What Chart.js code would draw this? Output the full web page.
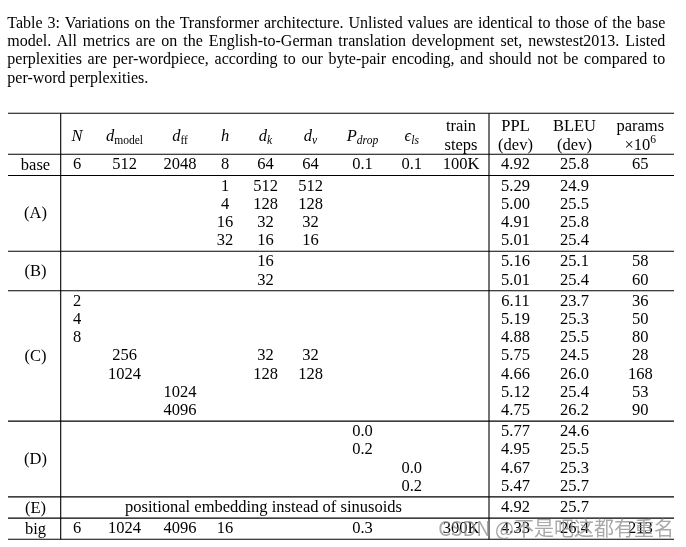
<!DOCTYPE html>
<html>
<head>
<meta charset="utf-8">
<script src="https://cdn.jsdelivr.net/npm/chart.js@4"></script>
<style>
body { margin: 0; background: #fff; }
#cadre { position: relative; width: 686px; height: 547px; }
#tableau { position: absolute; left: 0; top: 0; }
#legende { position: absolute; left: 7.3px; top: 13.7px; width: 658px; font: 16px/18.3px "Liberation Serif", serif; color: #000; }
#legende div { white-space: nowrap; }
</style>
</head>
<body>
<div id="cadre">
  <canvas id="tableau" width="686" height="547"></canvas>
  <div id="legende"></div>
</div>
<script>
// Légende du tableau, une ligne par entrée
const lignesLegende = [
    "Table 3: Variations on the Transformer architecture. Unlisted values are identical to those of the base",
    "model. All metrics are on the English-to-German translation development set, newstest2013. Listed",
    "perplexities are per-wordpiece, according to our byte-pair encoding, and should not be compared to",
    "per-word perplexities."
];

// Colonnes : N, d_model, d_ff, h, d_k, d_v, P_drop, eps_ls, train steps, PPL, BLEU, params
const enteteHaut = ['', '', '', '', '', '', '', '', 'train', 'PPL', 'BLEU', 'params'];
const enteteBas = ['', '', '', '', '', '', '', '', 'steps', '(dev)', '(dev)', '×10^6'];

const nomsGroupes = ['base', '(A)', '(B)', '(C)', '(D)', '(E)', 'big'];

const lignesBase = [
    ['6', '512', '2048', '8', '64', '64', '0.1', '0.1', '100K', '4.92', '25.8', '65']
];
const lignesA = [
    ['', '', '', '1', '512', '512', '', '', '', '5.29', '24.9', ''],
    ['', '', '', '4', '128', '128', '', '', '', '5.00', '25.5', ''],
    ['', '', '', '16', '32', '32', '', '', '', '4.91', '25.8', ''],
    ['', '', '', '32', '16', '16', '', '', '', '5.01', '25.4', '']
];
const lignesB = [
    ['', '', '', '', '16', '', '', '', '', '5.16', '25.1', '58'],
    ['', '', '', '', '32', '', '', '', '', '5.01', '25.4', '60']
];
const lignesC = [
    ['2', '', '', '', '', '', '', '', '', '6.11', '23.7', '36'],
    ['4', '', '', '', '', '', '', '', '', '5.19', '25.3', '50'],
    ['8', '', '', '', '', '', '', '', '', '4.88', '25.5', '80'],
    ['', '256', '', '', '32', '32', '', '', '', '5.75', '24.5', '28'],
    ['', '1024', '', '', '128', '128', '', '', '', '4.66', '26.0', '168'],
    ['', '', '1024', '', '', '', '', '', '', '5.12', '25.4', '53'],
    ['', '', '4096', '', '', '', '', '', '', '4.75', '26.2', '90']
];
const lignesD = [
    ['', '', '', '', '', '', '0.0', '', '', '5.77', '24.6', ''],
    ['', '', '', '', '', '', '0.2', '', '', '4.95', '25.5', ''],
    ['', '', '', '', '', '', '', '0.0', '', '4.67', '25.3', ''],
    ['', '', '', '', '', '', '', '0.2', '', '5.47', '25.7', '']
];
const texteE = 'positional embedding instead of sinusoids';
const lignesE = [
    ['', '', '', '', '', '', '', '', '', '4.92', '25.7', '']
];
const lignesBig = [
    ['6', '1024', '4096', '16', '', '', '0.3', '', '300K', '4.33', '26.4', '213']
];
const groupes = [lignesBase, lignesA, lignesB, lignesC, lignesD, lignesE, lignesBig];

const filigrane = 'CSDN @不是吧这都有重名';

// Mise en page (unités du tableau, en px depuis le bord gauche du tableau)
const largeurTableau = 666;
const colX = [69, 116.5, 172, 217, 257.5, 302.5, 354.5, 403.7, 453, 507.5, 566.5, 632.3];
const xGroupe = 27.5;
const xTexteE = 255.5;
const traitsVerticaux = [52.7, 481];
const hauteurEntete = 41;
const hauteurLigne = 18.2;
const margeGroupe = 3;
const TAILLE = 16.5;

// Texte mathématique de l'entête, en segments
const enteteMath = [
    [{ t: 'N', it: 1 }],
    [{ t: 'd', it: 1 }, { t: 'model', sub: 1 }],
    [{ t: 'd', it: 1 }, { t: 'ff', sub: 1 }],
    [{ t: 'h', it: 1 }],
    [{ t: 'd', it: 1 }, { t: 'k', sub: 1, it: 1 }],
    [{ t: 'd', it: 1 }, { t: 'v', sub: 1, it: 1 }],
    [{ t: 'P', it: 1 }, { t: 'drop', sub: 1, it: 1 }],
    [{ t: 'ϵ', it: 1 }, { t: 'ls', sub: 1, it: 1 }]
];

function segmentsDe(texte) {
    // '×10^6' -> exposant
    if (texte.includes('^')) {
        const [base, exp] = texte.split('^');
        return [{ t: base }, { t: exp, sup: 1 }];
    }
    return [{ t: texte }];
}

// Construction des cellules et des traits horizontaux
const cellulesEntete = [];
const cellulesCorps = [];
const cellulesGroupes = [];
const traitsHorizontaux = [0, hauteurEntete];

colX.forEach((x, c) => {
    if (enteteMath[c]) {
        cellulesEntete.push({ x: x, y: 21.7, segs: enteteMath[c] });
    } else {
        cellulesEntete.push({ x: x, y: 12.4, segs: segmentsDe(enteteHaut[c]) });
        cellulesEntete.push({ x: x, y: 31, segs: segmentsDe(enteteBas[c]) });
    }
});

let yCourant = hauteurEntete;
groupes.forEach((lignes, g) => {
    const hauteur = lignes.length * hauteurLigne + margeGroupe;
    lignes.forEach((ligne, r) => {
        const y = yCourant + 9.5 + r * hauteurLigne;
        ligne.forEach((val, c) => {
            if (val !== '') cellulesCorps.push({ x: colX[c], y: y, segs: [{ t: val }] });
        });
        if (nomsGroupes[g] === '(E)') cellulesCorps.push({ x: xTexteE, y: y, segs: [{ t: texteE }] });
    });
    cellulesGroupes.push({ x: xGroupe, y: yCourant + hauteur / 2 - 0.5, segs: [{ t: nomsGroupes[g] }] });
    yCourant += hauteur;
    traitsHorizontaux.push(yCourant);
});
const hauteurTotale = yCourant;

function police(seg) {
    const taille = (seg.sub || seg.sup) ? TAILLE * 0.7 : TAILLE;
    return (seg.it ? 'italic ' : '') + taille + 'px "Liberation Serif", "DejaVu Serif", serif';
}

function dessinerSegments(ctx, segs, cx, cy) {
    let largeur = 0;
    segs.forEach(s => { ctx.font = police(s); largeur += ctx.measureText(s.t).width; });
    let x = cx - largeur / 2;
    const ligneBase = cy + 5.5;
    segs.forEach(s => {
        ctx.font = police(s);
        let dy = 0;
        if (s.sub) dy = 3.5;
        if (s.sup) dy = -6.5;
        ctx.fillText(s.t, x, ligneBase + dy);
        x += ctx.measureText(s.t).width;
    });
}

const pluginTableau = {
    id: 'tableau',
    beforeDatasetsDraw(chart) {
        const { ctx, scales: { x, y } } = chart;
        ctx.save();
        ctx.strokeStyle = '#000';
        ctx.lineWidth = 1.1;
        traitsHorizontaux.forEach(v => {
            const py = y.getPixelForValue(v);
            ctx.beginPath();
            ctx.moveTo(x.getPixelForValue(0), py);
            ctx.lineTo(x.getPixelForValue(largeurTableau), py);
            ctx.stroke();
        });
        traitsVerticaux.forEach(v => {
            const px = x.getPixelForValue(v);
            ctx.beginPath();
            ctx.moveTo(px, y.getPixelForValue(0));
            ctx.lineTo(px, y.getPixelForValue(hauteurTotale));
            ctx.stroke();
        });
        ctx.restore();
    },
    afterDatasetsDraw(chart) {
        const ctx = chart.ctx;
        ctx.save();
        ctx.fillStyle = '#000';
        ctx.textAlign = 'left';
        ctx.textBaseline = 'alphabetic';
        chart.data.datasets.forEach((ds, di) => {
            chart.getDatasetMeta(di).data.forEach((el, i) => {
                dessinerSegments(ctx, ds.data[i].segs, el.x, el.y);
            });
        });
        // filigrane CSDN en bas à droite
        const { x, y } = chart.scales;
        ctx.font = '20px "Noto Sans CJK SC", "Noto Sans", sans-serif';
        ctx.fillStyle = 'rgba(140, 140, 140, 0.75)';
        ctx.textAlign = 'right';
        ctx.textBaseline = 'middle';
        ctx.fillText(filigrane, x.getPixelForValue(largeurTableau), y.getPixelForValue(hauteurTotale - 11));
        ctx.restore();
    }
};

// Justification des trois premières lignes de la légende
const legende = document.getElementById('legende');
lignesLegende.forEach((texte, i) => {
    const div = document.createElement('div');
    const span = document.createElement('span');
    span.textContent = texte;
    div.appendChild(span);
    legende.appendChild(div);
    if (i < lignesLegende.length - 1) {
        const espaces = texte.split(' ').length - 1;
        const reste = 658 - span.getBoundingClientRect().width;
        span.style.wordSpacing = (reste / espaces) + 'px';
    }
});

new Chart(document.getElementById('tableau'), {
    type: 'scatter',
    data: {
        datasets: [
            { label: 'entete', data: cellulesEntete, pointRadius: 0 },
            { label: 'groupes', data: cellulesGroupes, pointRadius: 0 },
            { label: 'valeurs', data: cellulesCorps, pointRadius: 0 }
        ]
    },
    options: {
        responsive: false,
        animation: false,
        devicePixelRatio: 1,
        layout: { padding: { left: 8, right: 12, top: 113.3, bottom: 547 - 113.3 - hauteurTotale } },
        scales: {
            x: { type: 'linear', min: 0, max: largeurTableau, display: false },
            y: { type: 'linear', min: 0, max: hauteurTotale, reverse: true, display: false }
        },
        plugins: {
            legend: { display: false },
            tooltip: { enabled: false }
        }
    },
    plugins: [pluginTableau]
});
</script>
</body>
</html>
